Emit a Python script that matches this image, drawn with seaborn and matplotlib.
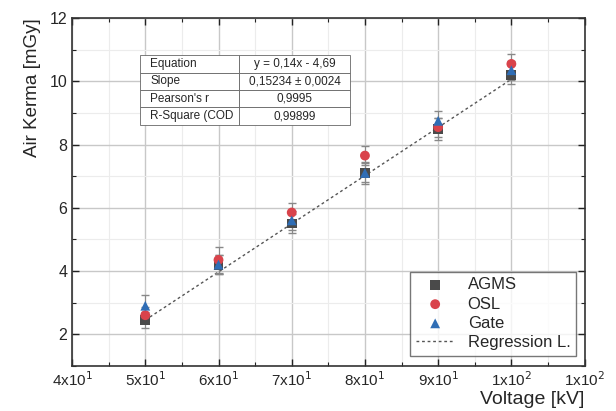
import numpy as np
import seaborn as sns
import matplotlib.pyplot as plt
from matplotlib.ticker import FixedLocator, MultipleLocator

voltage = [50, 60, 70, 80, 90, 100]
agms = [2.45, 4.20, 5.50, 7.10, 8.50, 10.20]
osl = [2.60, 4.35, 5.85, 7.65, 8.55, 10.55]
gate = [2.90, 4.20, 5.60, 7.10, 8.75, 10.35]
agms_err = [0.25, 0.30, 0.30, 0.35, 0.35, 0.30]
osl_err = [0.25, 0.40, 0.30, 0.30, 0.30, 0.30]
gate_err = [0.35, 0.30, 0.30, 0.30, 0.30, 0.30]
slope, intercept = 0.15234, -5.17
xtick_vals = [40, 50, 60, 70, 80, 90, 100, 110]
xtick_labels = ['4x10$^1$', '5x10$^1$', '6x10$^1$', '7x10$^1$', '8x10$^1$',
                '9x10$^1$', '1x10$^2$', '1x10$^2$']
table_rows = [['Equation', 'y = 0,14x - 4,69'],
              ['Slope', '0,15234 ± 0,0024'],
              ["Pearson's r", '0,9995'],
              ['R-Square (COD', '0,99899']]

sns.set_theme(style='white')
plt.rcParams['font.family'] = ['Liberation Sans', 'DejaVu Sans']

fig = plt.figure(figsize=(6.16, 4.11), dpi=100)
ax = fig.add_axes([0.117, 0.11, 0.832, 0.846])

series = [('AGMS', agms, agms_err, '#4a4a4a', 's'),
          ('OSL', osl, osl_err, '#d9434b', 'o'),
          ('Gate', gate, gate_err, '#2f6db5', '^')]
for name, vals, err, col, mk in series:
    ax.errorbar(voltage, vals, yerr=err, fmt='none', ecolor='#888888',
                elinewidth=0.8, capsize=3, zorder=3)
    sns.scatterplot(x=voltage, y=vals, marker=mk, color=col, s=50,
                    edgecolor='none', label=name, ax=ax, zorder=4)

xr = np.array([voltage[0], voltage[-1]])
sns.lineplot(x=xr, y=slope * xr + intercept, color='#555555', lw=1,
             linestyle=(0, (2, 2)), label='Regression L.', ax=ax, zorder=2)

ax.set_xlim(40, 110)
ax.set_ylim(1, 12)
ax.xaxis.set_major_locator(FixedLocator(xtick_vals))
ax.set_xticklabels(xtick_labels, fontsize=11)
ax.xaxis.set_minor_locator(MultipleLocator(5))
ax.yaxis.set_major_locator(FixedLocator([2, 4, 6, 8, 10, 12]))
ax.yaxis.set_minor_locator(MultipleLocator(1))
ax.tick_params(axis='y', labelsize=11.5)
ax.tick_params(which='both', direction='in', top=True, right=True,
               bottom=True, left=True, color='#222222')
ax.tick_params(which='major', length=5, width=1)
ax.tick_params(which='minor', length=3, width=0.8)
ax.grid(True, which='major', color='#c8c8c8', lw=1)
ax.grid(True, which='minor', color='#ececec', lw=0.8)
for sp in ax.spines.values():
    sp.set_color('#333333')
    sp.set_linewidth(1.2)

ax.set_xlabel('Voltage [kV]', fontsize=14, loc='right', labelpad=1)
ax.set_ylabel('Air Kerma [mGy]', fontsize=13.5, loc='top', labelpad=6)

leg = ax.legend(loc='lower right', fontsize=12, frameon=True, fancybox=False,
                edgecolor='#555555', handlelength=2.3, borderpad=0.35,
                labelspacing=0.25, bbox_to_anchor=(1.0, 0.005))
leg.get_frame().set_linewidth(1)

tbl = ax.table(cellText=table_rows, cellLoc='center',
               bbox=[0.133, 0.693, 0.41, 0.2], colWidths=[0.47, 0.53])
tbl.auto_set_font_size(False)
tbl.set_fontsize(8.5)
for (r, c), cell in tbl.get_celld().items():
    cell.set_edgecolor('#666666')
    cell.set_linewidth(0.6)
    cell.set_facecolor('white')
    if c == 0:
        cell.set_text_props(ha='left')
        cell._loc = 'left'
tbl.set_zorder(5)

fig.savefig('out.png', dpi=100)
